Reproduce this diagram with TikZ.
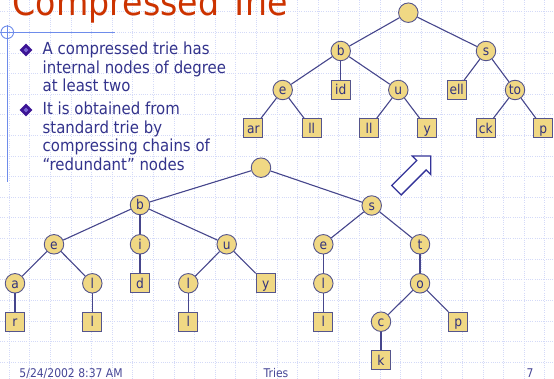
\documentclass[tikz,border=0pt]{standalone}
\usepackage{fontspec}
\setmainfont[FakeStretch=0.9]{DejaVu Sans}
\usetikzlibrary{shapes.geometric}

\definecolor{titlered}{RGB}{204,51,0}
\definecolor{bodyblue}{RGB}{51,51,140}
\definecolor{footblue}{RGB}{70,70,150}
\definecolor{gridblue}{RGB}{212,218,248}
\definecolor{crossblue}{RGB}{110,140,235}
\definecolor{nodefill}{RGB}{240,216,132}
\definecolor{nodeline}{RGB}{85,85,140}
\definecolor{edgeline}{RGB}{70,70,140}
\definecolor{labelblue}{RGB}{50,50,125}
\definecolor{bulletpurple}{RGB}{60,20,150}
\definecolor{bulletlight}{RGB}{120,100,210}
\definecolor{arrowblue}{RGB}{51,51,153}

\tikzset{
  trienode/.style={circle, draw=nodeline, fill=nodefill, line width=0.9pt,
    minimum size=19.5pt, inner sep=0pt, text=labelblue,
    font=\fontsize{13.6}{13.6}\selectfont, text height=11pt, text depth=1pt},
  leafbox/.style={rectangle, draw=nodeline, fill=nodefill, line width=0.9pt,
    minimum size=19pt, inner sep=0pt, text=labelblue,
    font=\fontsize{13.6}{13.6}\selectfont, text height=11pt, text depth=1pt},
  link/.style={draw=edgeline, line width=1.1pt},
  gridline/.style={draw=gridblue, line width=0.6pt, dash pattern=on 1pt off 1.2pt},
  bodyline/.style={anchor=base west, inner sep=0pt, text=bodyblue,
    font=\fontsize{16.6}{18.5}\selectfont},
  footer/.style={anchor=base, inner sep=0pt, text=footblue,
    font=\fontsize{12}{12}\selectfont},
  bulletmark/.style={diamond, fill=bulletpurple, minimum size=13pt, inner sep=0pt},
  bulletcore/.style={diamond, fill=bulletlight, minimum size=5pt, inner sep=0pt}
}

\begin{document}
\begin{tikzpicture}[x=1pt, y=-1pt]
  \useasboundingbox (0,0) rectangle (554,379);
  \fill[white] (0,0) rectangle (554,379);

  % dotted background grid
  \foreach \k in {0,...,26} {
    \draw[gridline] ({9.1+20.6*\k},0) -- ({9.1+20.6*\k},379);
  }
  \foreach \k in {0,...,17} {
    \draw[gridline] (0,{11.8+20.6*\k}) -- (554,{11.8+20.6*\k});
  }

  % crosshair ornament at the upper left
  \draw[crossblue, line width=0.9pt] (7.3,32.3) circle (6.3);
  \draw[crossblue, line width=0.9pt] (0,32.3) -- (115,32.3);
  \draw[crossblue, line width=0.9pt] (7.3,25) -- (7.3,182);

  % title
  \node[anchor=base west, inner sep=0pt, text=titlered,
        font=\fontsize{36.9}{36.9}\selectfont] (title) at (12.5,16) {Compressed Trie};

  % bullets
  \node[bulletmark] (bm1) at (26,50) {};
  \node[bulletcore] at (bm1) {};
  \node[bulletmark] (bm2) at (26,110) {};
  \node[bulletcore] at (bm2) {};

  \node[bodyline] (t1) at (42.5,55)   {A compressed trie has};
  \node[bodyline] (t2) at (42.5,73.5) {internal nodes of degree};
  \node[bodyline] (t3) at (42.5,92)   {at least two};
  \node[bodyline] (t4) at (42.5,115)  {It is obtained from};
  \node[bodyline] (t5) at (42.5,133.5){standard trie by};
  \node[bodyline] (t6) at (42.5,152)  {compressing chains of};
  \node[bodyline] (t7) at (42.5,170.5){“redundant” nodes};

  % compressed trie (top)
  \node[trienode] (croot) at (408.3,12.7) {};
  \node[trienode] (cb)    at (340.7,51)   {b};
  \node[trienode] (cs)    at (486,51)     {s};
  \node[trienode] (ce)    at (282.7,90)   {e};
  \node[leafbox]  (cid)   at (340.7,90)   {id};
  \node[trienode] (cu)    at (398.3,90)   {u};
  \node[leafbox]  (cell)  at (456.7,90)   {ell};
  \node[trienode] (cto)   at (515,90)     {to};
  \node[leafbox]  (car)   at (253.3,128.3){ar};
  \node[leafbox]  (cll)   at (311.7,128.3){ll};
  \node[leafbox]  (cul)   at (369,128.3)  {ll};
  \node[leafbox]  (cy)    at (427.3,128.3){y};
  \node[leafbox]  (cck)   at (485.7,128.3){ck};
  \node[leafbox]  (cp)    at (543.3,128.3){p};

  \draw[link] (croot) -- (cb);
  \draw[link] (croot) -- (cs);
  \draw[link] (cb) -- (ce);
  \draw[link] (cb) -- (cid);
  \draw[link] (cb) -- (cu);
  \draw[link] (ce) -- (car);
  \draw[link] (ce) -- (cll);
  \draw[link] (cu) -- (cul);
  \draw[link] (cu) -- (cy);
  \draw[link] (cs) -- (cell);
  \draw[link] (cs) -- (cto);
  \draw[link] (cto) -- (cck);
  \draw[link] (cto) -- (cp);

  % standard trie (bottom)
  \node[trienode] (sroot) at (261,167.7)  {};
  \node[trienode] (sb)    at (140,205)    {b};
  \node[trienode] (ss)    at (371.7,205.5){s};
  \node[trienode] (se)    at (54,244.3)   {e};
  \node[trienode] (si)    at (140,244.3)  {i};
  \node[trienode] (su)    at (226.7,244.3){u};
  \node[trienode] (sa)    at (15,283.3)   {a};
  \node[trienode] (sel)   at (92.3,283.3) {l};
  \node[leafbox]  (sd)    at (140,283.3)  {d};
  \node[trienode] (sul)   at (188.3,283.3){l};
  \node[leafbox]  (sy)    at (265.7,283.3){y};
  \node[leafbox]  (sr)    at (15,321.7)   {r};
  \node[leafbox]  (sell)  at (92.3,321.7) {l};
  \node[leafbox]  (sull)  at (188.3,321.7){l};
  \node[trienode] (sse)   at (323.3,244.3){e};
  \node[trienode] (st)    at (420,244.3)  {t};
  \node[trienode] (ssel)  at (323.3,283.3){l};
  \node[trienode] (so)    at (420,283.3)  {o};
  \node[leafbox]  (ssell) at (323.3,321.7){l};
  \node[trienode] (sc)    at (381,321.7)  {c};
  \node[leafbox]  (sp)    at (458.3,321.7){p};
  \node[leafbox]  (sk)    at (381,360)    {k};

  \draw[link] (sroot) -- (sb);
  \draw[link] (sroot) -- (ss);
  \draw[link] (sb) -- (se);
  \draw[link] (sb) -- (si);
  \draw[link] (sb) -- (su);
  \draw[link] (se) -- (sa);
  \draw[link] (se) -- (sel);
  \draw[link] (sa) -- (sr);
  \draw[link] (sel) -- (sell);
  \draw[link] (si) -- (sd);
  \draw[link] (su) -- (sul);
  \draw[link] (su) -- (sy);
  \draw[link] (sul) -- (sull);
  \draw[link] (ss) -- (sse);
  \draw[link] (ss) -- (st);
  \draw[link] (sse) -- (ssel);
  \draw[link] (ssel) -- (ssell);
  \draw[link] (st) -- (so);
  \draw[link] (so) -- (sc);
  \draw[link] (so) -- (sp);
  \draw[link] (sc) -- (sk);

  % hollow block arrow from the standard trie towards the compressed one
  \draw[draw=arrowblue, fill=white, line width=1.3pt, line join=miter]
    (430.7,156) -- (430.7,174.4) -- (426.2,169.9) -- (401.2,194.9)
    -- (391.8,185.5) -- (416.8,160.5) -- (412.3,156) -- cycle;

  % footer
  \node[footer, anchor=base west] (date) at (19.3,377) {5/24/2002 8:37 AM};
  \node[footer] (topic) at (276,377) {Tries};
  \node[footer] (page) at (530,377) {7};
\end{tikzpicture}
\end{document}
